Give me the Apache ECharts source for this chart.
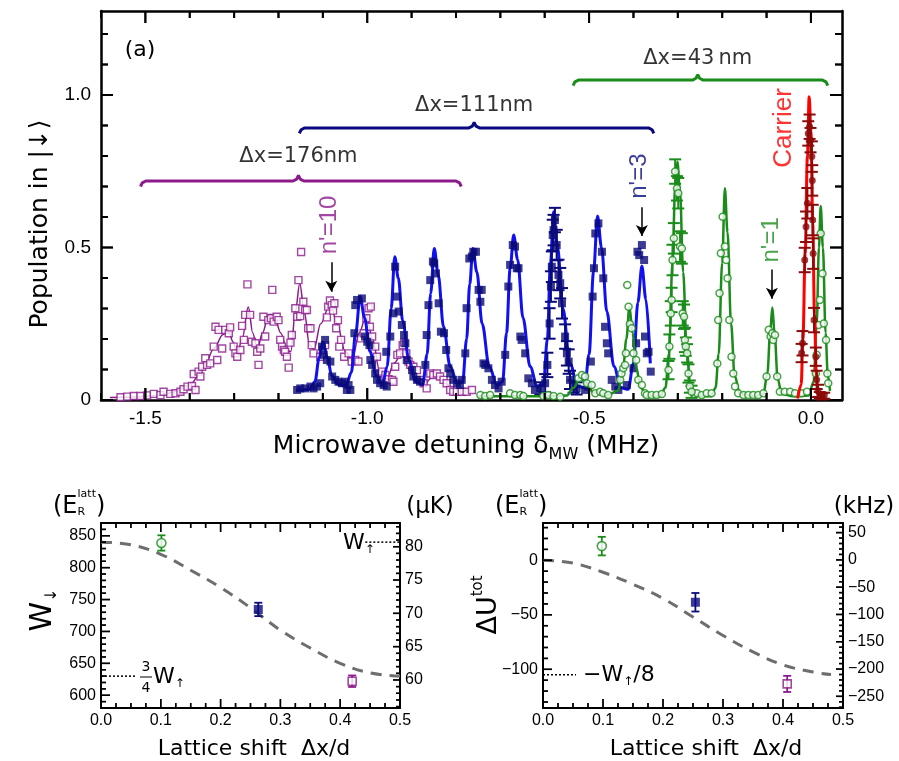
<!DOCTYPE html>
<html><head><meta charset="utf-8">
<script src="https://cdn.jsdelivr.net/npm/echarts@6/dist/echarts.min.js"></script>
<style>html,body{margin:0;padding:0;background:#fff}#c{width:899px;height:761px}</style>
</head><body><div id="c"></div>
<script>
// ================= Panel (a) data =================
const purplePoints = [[-1.556,0.009],[-1.541,0.011],[-1.526,0.013],[-1.511,0.013],[-1.496,0.015],[-1.481,0.02],[-1.466,0.016],[-1.459,0.027],[-1.444,0.02],[-1.432,0.022],[-1.421,0.027],[-1.414,0.035],[-1.405,0.044],[-1.395,0.046],[-1.387,0.033],[-1.391,0.085],[-1.380,0.093],[-1.376,0.077],[-1.372,0.109],[-1.361,0.115],[-1.365,0.137],[-1.354,0.12],[-1.346,0.175],[-1.338,0.131],[-1.342,0.24],[-1.335,0.23],[-1.327,0.169],[-1.320,0.23],[-1.312,0.219],[-1.309,0.238],[-1.301,0.175],[-1.297,0.153],[-1.293,0.142],[-1.286,0.164],[-1.282,0.243],[-1.278,0.197],[-1.275,0.279],[-1.270,0.379],[-1.264,0.279],[-1.260,0.191],[-1.252,0.186],[-1.248,0.158],[-1.245,0.115],[-1.241,0.169],[-1.234,0.273],[-1.230,0.208],[-1.223,0.262],[-1.217,0.268],[-1.214,0.361],[-1.211,0.257],[-1.204,0.273],[-1.200,0.262],[-1.196,0.197],[-1.192,0.175],[-1.188,0.164],[-1.185,0.158],[-1.181,0.142],[-1.177,0.106],[-1.173,0.188],[-1.170,0.213],[-1.162,0.301],[-1.158,0.273],[-1.155,0.393],[-1.151,0.275],[-1.149,0.485],[-1.144,0.322],[-1.140,0.295],[-1.136,0.295],[-1.133,0.235],[-1.128,0.235],[-1.125,0.18],[-1.121,0.153],[-1.106,0.142],[-1.100,0.164],[-1.095,0.18],[-1.091,0.271],[-1.088,0.306],[-1.084,0.326],[-1.080,0.311],[-1.077,0.293],[-1.074,0.317],[-1.070,0.235],[-1.066,0.262],[-1.063,0.175],[-1.059,0.197],[-1.052,0.142],[-1.042,0.153],[-1.035,0.126],[-1.027,0.131],[-1.020,0.126],[-1.014,0.202],[-1.008,0.219],[-1.002,0.268],[-0.997,0.301],[-0.992,0.306],[-0.994,0.24],[-0.989,0.208],[-0.982,0.175],[-0.978,0.142],[-0.973,0.087],[-0.967,0.093],[-0.959,0.082],[-0.952,0.068],[-0.944,0.066],[-0.941,0.06],[-0.937,0.109],[-0.932,0.148],[-0.926,0.153],[-0.920,0.18],[-0.917,0.188],[-0.912,0.153],[-0.907,0.126],[-0.903,0.115],[-0.896,0.109],[-0.888,0.098],[-0.881,0.066],[-0.873,0.055],[-0.866,0.038],[-0.858,0.087],[-0.851,0.082],[-0.843,0.087],[-0.836,0.077],[-0.828,0.066],[-0.821,0.055],[-0.813,0.033],[-0.806,0.027],[-0.798,0.027],[-0.787,0.027],[-0.776,0.027],[-0.764,0.033]];
const purpleFit = [[-1.58,0.008],[-1.52,0.01],[-1.47,0.015],[-1.43,0.028],[-1.40,0.05],[-1.37,0.1],[-1.345,0.17],[-1.325,0.215],[-1.312,0.222],[-1.302,0.19],[-1.293,0.15],[-1.282,0.2],[-1.268,0.305],[-1.258,0.22],[-1.248,0.165],[-1.236,0.22],[-1.222,0.28],[-1.21,0.28],[-1.195,0.22],[-1.18,0.16],[-1.172,0.16],[-1.162,0.29],[-1.152,0.383],[-1.142,0.29],[-1.13,0.18],[-1.12,0.165],[-1.105,0.25],[-1.083,0.318],[-1.068,0.25],[-1.05,0.16],[-1.034,0.13],[-1.018,0.22],[-1.002,0.279],[-0.988,0.2],[-0.972,0.095],[-0.956,0.066],[-0.94,0.12],[-0.922,0.153],[-0.905,0.1],[-0.89,0.06],[-0.873,0.049],[-0.855,0.072],[-0.836,0.082],[-0.818,0.05],[-0.8,0.022],[-0.78,0.015]];
const navyPoints = [[-1.158,0.033],[-1.151,0.038],[-1.140,0.038],[-1.128,0.044],[-1.121,0.038],[-1.113,0.044],[-1.106,0.055],[-1.102,0.175],[-1.095,0.197],[-1.098,0.148],[-1.091,0.131],[-1.083,0.126],[-1.079,0.077],[-1.072,0.066],[-1.065,0.06],[-1.057,0.055],[-1.05,0.06],[-1.042,0.049],[-1.038,0.033],[-1.046,0.033],[-1.029,0.219],[-1.023,0.328],[-1.012,0.333],[-1.027,0.311],[-1.005,0.208],[-1.0,0.191],[-0.995,0.18],[-0.993,0.131],[-0.989,0.115],[-0.982,0.087],[-0.978,0.066],[-0.971,0.055],[-0.963,0.049],[-0.956,0.044],[-0.957,0.158],[-0.948,0.208],[-0.941,0.284],[-0.937,0.437],[-0.933,0.339],[-0.929,0.29],[-0.922,0.246],[-0.917,0.213],[-0.914,0.186],[-0.911,0.131],[-0.899,0.098],[-0.896,0.077],[-0.888,0.066],[-0.881,0.06],[-0.869,0.115],[-0.866,0.213],[-0.862,0.311],[-0.858,0.393],[-0.852,0.454],[-0.849,0.448],[-0.845,0.415],[-0.839,0.317],[-0.834,0.224],[-0.827,0.219],[-0.822,0.164],[-0.817,0.104],[-0.813,0.087],[-0.806,0.066],[-0.798,0.055],[-0.791,0.049],[-0.787,0.066],[-0.779,0.153],[-0.776,0.301],[-0.770,0.464],[-0.764,0.47],[-0.761,0.486],[-0.755,0.486],[-0.749,0.361],[-0.745,0.322],[-0.742,0.361],[-0.738,0.12],[-0.734,0.115],[-0.727,0.104],[-0.719,0.066],[-0.712,0.049],[-0.704,0.038],[-0.697,0.06],[-0.689,0.148],[-0.682,0.372],[-0.678,0.443],[-0.672,0.508],[-0.667,0.503],[-0.663,0.432],[-0.659,0.432],[-0.655,0.208],[-0.652,0.197],[-0.644,0.153],[-0.637,0.071],[-0.629,0.055],[-0.622,0.033],[-0.509,0.033],[-0.502,0.044],[-0.496,0.126],[-0.492,0.339],[-0.489,0.432],[-0.486,0.546],[-0.479,0.579],[-0.471,0.486],[-0.468,0.399],[-0.464,0.24],[-0.46,0.186],[-0.457,0.153],[-0.449,0.066],[-0.441,0.044],[-0.434,0.033],[-0.415,0.049],[-0.4,0.104],[-0.394,0.186],[-0.391,0.486],[-0.387,0.475],[-0.381,0.508],[-0.376,0.459],[-0.374,0.208],[-0.37,0.153],[-0.366,0.158],[-0.361,0.093]];
const navyErrPoints = [[-0.61,0.038,0.02],[-0.599,0.055,0.03],[-0.594,0.115,0.04],[-0.589,0.251,0.05],[-0.586,0.372,0.05],[-0.584,0.437,0.05],[-0.582,0.541,0.05],[-0.58,0.557,0.05],[-0.577,0.59,0.04],[-0.573,0.508,0.05],[-0.569,0.41,0.05],[-0.565,0.383,0.05],[-0.561,0.317,0.05],[-0.554,0.208,0.04],[-0.55,0.153,0.04],[-0.546,0.126,0.04],[-0.543,0.066,0.03],[-0.535,0.044,0.02],[-0.528,0.038,0.02]];
const blueFit = [[-1.16,0.03],[-1.13,0.035],[-1.118,0.06],[-1.108,0.14],[-1.1,0.19],[-1.09,0.14],[-1.08,0.08],[-1.065,0.05],[-1.048,0.045],[-1.036,0.09],[-1.026,0.22],[-1.016,0.34],[-1.006,0.27],[-0.994,0.16],[-0.98,0.08],[-0.966,0.05],[-0.955,0.11],[-0.946,0.3],[-0.938,0.47],[-0.93,0.4],[-0.92,0.26],[-0.906,0.13],[-0.89,0.06],[-0.875,0.05],[-0.865,0.15],[-0.857,0.35],[-0.849,0.497],[-0.84,0.41],[-0.828,0.24],[-0.813,0.11],[-0.797,0.055],[-0.785,0.06],[-0.776,0.2],[-0.769,0.38],[-0.762,0.497],[-0.753,0.42],[-0.741,0.25],[-0.725,0.11],[-0.708,0.05],[-0.695,0.06],[-0.686,0.22],[-0.678,0.43],[-0.67,0.541],[-0.661,0.46],[-0.649,0.27],[-0.633,0.11],[-0.617,0.045],[-0.603,0.05],[-0.594,0.2],[-0.587,0.45],[-0.58,0.617],[-0.571,0.5],[-0.559,0.3],[-0.543,0.12],[-0.526,0.045],[-0.51,0.04],[-0.5,0.15],[-0.49,0.42],[-0.481,0.603],[-0.472,0.5],[-0.46,0.29],[-0.444,0.11],[-0.428,0.04],[-0.412,0.035],[-0.4,0.12],[-0.39,0.32],[-0.381,0.439],[-0.372,0.33],[-0.362,0.12]];
const greenPoints = [[-0.745,0.016],[-0.734,0.013],[-0.723,0.016],[-0.678,0.022],[-0.667,0.016],[-0.655,0.016],[-0.648,0.013],[-0.603,0.013],[-0.592,0.016],[-0.58,0.013],[-0.565,0.011],[-0.524,0.071],[-0.516,0.082],[-0.509,0.077],[-0.505,0.055],[-0.494,0.049],[-0.486,0.022],[-0.475,0.027],[-0.468,0.022],[-0.457,0.016],[-0.430,0.066],[-0.427,0.087],[-0.423,0.104],[-0.419,0.115],[-0.417,0.153],[-0.414,0.377],[-0.411,0.306],[-0.408,0.249],[-0.404,0.235],[-0.400,0.153],[-0.394,0.131],[-0.389,0.066],[-0.381,0.049],[-0.374,0.022],[-0.37,0.016],[-0.359,0.016],[-0.348,0.016],[-0.336,0.02],[-0.257,0.022],[-0.246,0.016],[-0.235,0.022],[-0.224,0.022],[-0.211,0.12],[-0.209,0.262],[-0.206,0.35],[-0.203,0.481],[-0.199,0.601],[-0.194,0.503],[-0.191,0.459],[-0.188,0.399],[-0.184,0.262],[-0.179,0.142],[-0.175,0.087],[-0.171,0.044],[-0.164,0.022],[-0.152,0.016],[-0.141,0.016],[-0.13,0.016],[-0.119,0.016],[-0.107,0.022],[-0.1,0.077],[-0.095,0.23],[-0.091,0.208],[-0.087,0.219],[-0.085,0.197],[-0.081,0.213],[-0.076,0.077],[-0.07,0.027],[-0.059,0.027],[-0.047,0.027],[-0.036,0.022],[-0.021,0.022],[-0.009,0.027],[0.011,0.087],[0.013,0.148],[0.017,0.246],[0.020,0.328],[0.022,0.546],[0.026,0.415],[0.029,0.251],[0.034,0.197],[0.037,0.087],[0.039,0.055]];
const greenErrPoints = [[-0.321,0.098,0.03],[-0.319,0.175,0.04],[-0.316,0.284,0.04],[-0.314,0.328,0.04],[-0.312,0.459,0.05],[-0.309,0.53,0.05],[-0.306,0.749,0.04],[-0.302,0.694,0.04],[-0.299,0.678,0.05],[-0.295,0.503,0.05],[-0.291,0.497,0.05],[-0.289,0.284,0.04],[-0.286,0.273,0.04],[-0.284,0.197,0.04],[-0.282,0.175,0.03],[-0.279,0.153,0.03],[-0.276,0.087,0.03],[-0.273,0.044,0.02],[-0.269,0.027,0.02]];
const greenFit = [[-0.75,0.012],[-0.6,0.012],[-0.55,0.015],[-0.535,0.04],[-0.52,0.075],[-0.505,0.05],[-0.49,0.025],[-0.46,0.015],[-0.435,0.03],[-0.424,0.09],[-0.416,0.2],[-0.409,0.306],[-0.402,0.22],[-0.394,0.11],[-0.384,0.04],[-0.37,0.015],[-0.34,0.012],[-0.328,0.04],[-0.32,0.15],[-0.312,0.45],[-0.306,0.7],[-0.301,0.781],[-0.295,0.68],[-0.288,0.42],[-0.28,0.17],[-0.272,0.05],[-0.26,0.015],[-0.225,0.012],[-0.215,0.04],[-0.208,0.15],[-0.2,0.45],[-0.194,0.694],[-0.188,0.55],[-0.18,0.25],[-0.172,0.08],[-0.16,0.02],[-0.13,0.012],[-0.107,0.02],[-0.098,0.09],[-0.092,0.22],[-0.087,0.303],[-0.082,0.22],[-0.075,0.07],[-0.066,0.02],[-0.04,0.012],[-0.005,0.015],[0.006,0.06],[0.013,0.25],[0.018,0.5],[0.022,0.636],[0.027,0.5],[0.033,0.22],[0.038,0.08],[0.043,0.03]];
const carrierPoints = [[-0.021,0.154,0.03],[-0.019,0.186,0.04],[-0.014,0.459,0.04],[-0.011,0.568,0.05],[-0.008,0.645,0.05],[-0.006,0.874,0.04],[-0.003,0.896,0.04],[-0.001,0.852,0.04],[0.002,0.798,0.05],[0.003,0.72,0.05],[0.004,0.59,0.05],[0.005,0.48,0.05],[0.007,0.262,0.04],[0.011,0.142,0.03],[0.013,0.066,0.03],[0.016,0.03,0.02],[0.02,0.016,0.01],[0.025,0.012,0.01],[0.03,0.014,0.01]];
const carrierFit = [[-0.03,0.005],[-0.022,0.05],[-0.018,0.2],[-0.013,0.48],[-0.008,0.8],[-0.004,0.994],[0.0,0.88],[0.004,0.58],[0.008,0.28],[0.012,0.09],[0.016,0.02],[0.025,0.005]];

const bracketLabels = ['Δx=176nm','Δx=111nm','Δx=43\u2009nm'];
const bracketColors = ['#8b1a8b','#0a0a80','#1a8c1a'];
const bracketX1 = [-1.511,-1.153,-0.536];
const bracketX2 = [-0.788,-0.354,0.038];
const bracketMid = [-1.155,-0.759,-0.255];
const bracketY = [0.718,0.892,1.049];

const xLabelsA = [-1.5,-1.0,-0.5,0.0];
const xMinorA = [-1.6,-1.4,-1.3,-1.2,-1.1,-0.9,-0.8,-0.7,-0.6,-0.4,-0.3,-0.2,-0.1];
const yLabelsA = [0,0.5,1.0];
const yMinorA = [0.1,0.2,0.3,0.4,0.6,0.7,0.8,0.9,1.1,1.2];

// ================= Panels (b), (c) data =================
const shiftB = [0.101,0.263,0.42];
const wDown = [838.7,734.5,622];
const wDownErr = [12,10.5,9];
const shiftC = [0.098,0.254,0.407];
const dUtot = [13,-38.5,-113.4];
const dUtotErr = [8.5,8.5,7.4];
const markerColors = ['#1a8c1a','#0a0a80','#8b1a8b'];
const theoryXB = [0,0.05,0.1,0.15,0.2,0.25,0.3,0.35,0.4,0.45,0.5];
const theoryW  = [840,836,821,796,769,737,702,674,650,635,630];
const theoryXC = [0,0.05,0.1,0.15,0.2,0.25,0.3,0.35,0.4,0.45,0.48];
const theoryU  = [0,-2.6,-11,-22,-35,-52,-69,-84,-96,-102.5,-104.8];
const xLabelsBC = [0,0.1,0.2,0.3,0.4,0.5];
const yLabelsB = [600,650,700,750,800,850];
const yLabelsBRight = [60,65,70,75,80];
const yLabelsC = [-100,-50,0];
const yLabelsCRight = [-250,-200,-150,-100,-50,0,50];

// ================= helpers =================
function stepVals(a, b, s, skip) {
  const out = [];
  for (let k = Math.round(a / s); k * s <= b + 1e-9; k++) {
    const v = Math.round(k * s * 1000) / 1000;
    if (skip && Math.abs(v / skip - Math.round(v / skip)) < 1e-6) continue;
    out.push(v);
  }
  return out;
}
function mkAxis(grid, pos, min, max, lw, label) {
  return {type:'value', gridIndex:grid, position:pos, min:min, max:max, splitLine:{show:false},
    axisLine:{show:true, onZero:false, lineStyle:{color:'#000', width:lw}},
    axisTick:{show:false},
    axisLabel: label ? {show:true, customValues:label.values, formatter:label.fmt, color:'#000', fontFamily:'Liberation Sans', fontSize:label.size, margin:label.margin} : {show:false}};
}
const fmt1 = v => v.toFixed(1);
const fmtY = v => v === 0 ? '0' : v.toFixed(1);
const fmtInt = v => v < 0 ? '\u2212' + Math.abs(v) : String(v);

const mctx = document.createElement('canvas').getContext('2d');
function tw(t, size, fam) { mctx.font = size + 'px "' + fam + '"'; return mctx.measureText(t).width; }
function comp(parts, cx, cy, rot, anchor) {
  let x = 0; const items = [];
  parts.forEach(p => {
    const fam = p.fam || 'DejaVu Sans';
    const w = tw(p.t, p.size, fam);
    items.push({type:'text', x: x + (p.dx || 0), y: (p.dy || 0), silent:true,
      style:{text:p.t, fontSize:p.size, fontFamily:fam, fill:p.color || '#000', align:'left', verticalAlign:'middle', textAlign:'left', textVerticalAlign:'middle'}});
    x += (p.adv !== undefined ? p.adv : w);
  });
  const off = anchor === 'left' ? 0 : -x / 2;
  items.forEach(it => { it.x += off; });
  return {type:'group', x:cx, y:cy, rotation:rot || 0, children:items, silent:true};
}
function errRender(color, cap, lw) {
  return function (params, api) {
    const x = api.value(0), y = api.value(1), e = api.value(2);
    const p0 = api.coord([x, y - e]), p1 = api.coord([x, y + e]);
    const st = {stroke:color, lineWidth:lw};
    return {type:'group', children:[
      {type:'line', shape:{x1:p0[0], y1:p0[1], x2:p1[0], y2:p1[1]}, style:st},
      {type:'line', shape:{x1:p0[0]-cap, y1:p0[1], x2:p0[0]+cap, y2:p0[1]}, style:st},
      {type:'line', shape:{x1:p1[0]-cap, y1:p1[1], x2:p1[0]+cap, y2:p1[1]}, style:st}
    ]};
  };
}
// tick renderer: same mechanism as the error bars (api.coord), item = [xv, yv, dxPx, dyPx]
function tickRender(lw) {
  return function (params, api) {
    const p = api.coord([api.value(0), api.value(1)]);
    const dx = api.value(2), dy = api.value(3);
    return {type:'line', shape:{x1:p[0], y1:p[1], x2:p[0] + dx, y2:p[1] + dy}, style:{stroke:'#000', lineWidth:lw}};
  };
}
function tickData(xr, yr, xg, yg) {
  const d = [];
  xg.forEach(t => t[0].forEach(v => { d.push([v, yr[0], 0, -t[1]]); d.push([v, yr[1], 0, t[1]]); }));
  yg.forEach(t => t[0].forEach(v => {
    if (t[2].indexOf('l') >= 0) d.push([xr[0], v, t[1], 0]);
    if (t[2].indexOf('r') >= 0) d.push([xr[1], v, -t[1], 0]);
  }));
  return d;
}
function tickSeries(xi, yi, xr, yr, xg, yg, lw) {
  const data = tickData(xr, yr, xg, yg);
  return [
    {type:'custom', xAxisIndex:xi, yAxisIndex:yi, data:data, renderItem:tickRender(lw), z:30, silent:true, clip:false},
    {type:'scatter', xAxisIndex:xi, yAxisIndex:yi, z:29, silent:true, clip:false,
      data:data.map(p => ({value:[p[0], p[1]],
        symbol:'rect',
        symbolSize:[p[2] === 0 ? lw : Math.abs(p[2]), p[3] === 0 ? lw : Math.abs(p[3])],
        symbolOffset:[p[2] / 2, p[3] / 2]})),
      itemStyle:{color:'#000'}}
  ];
}
function bracePts(x1, x2, m, y) {
  const d = 0.018, e = 0.012, f = 0.004;
  return [[x1,y-d],[x1+f,y-0.006],[x1+e,y],[m-e,y],[m-f,y+0.006],[m,y+d],[m+f,y+0.006],[m+e,y],[x2-e,y],[x2-f,y-0.006],[x2,y-d]];
}

// ================= axes & grids =================
const X_MIN_A = -1.6, X_MAX_A = 0.07, Y_MIN_A = 0, Y_MAX_A = 1.2754;
const B_YMIN = 580, B_YMAX = 870, B_RMIN = 55.79, B_RMAX = 83.56;
const C_YMIN = -135.5, C_YMAX = 34.2, C_RMIN = -271.4, C_RMAX = 67.6;
const grids = [
  {left:101, top:11, width:741, height:389},
  {left:101, top:523, width:299, height:185},
  {left:543, top:523, width:300, height:185}
];
const xAxes = [
  mkAxis(0,'bottom',X_MIN_A,X_MAX_A,2.5,{values:xLabelsA,fmt:fmt1,size:19,margin:9}),
  mkAxis(0,'top',X_MIN_A,X_MAX_A,2.5,null),
  mkAxis(1,'bottom',0,0.5,2,{values:xLabelsBC,fmt:fmt1,size:16,margin:5}),
  mkAxis(1,'top',0,0.5,2,null),
  mkAxis(2,'bottom',0,0.5,2,{values:xLabelsBC,fmt:fmt1,size:16,margin:5}),
  mkAxis(2,'top',0,0.5,2,null)
];
const yAxes = [
  mkAxis(0,'left',Y_MIN_A,Y_MAX_A,2.5,{values:yLabelsA,fmt:fmtY,size:19,margin:10}),
  mkAxis(0,'right',Y_MIN_A,Y_MAX_A,2.5,null),
  mkAxis(1,'left',B_YMIN,B_YMAX,2,{values:yLabelsB,fmt:fmtInt,size:16,margin:5}),
  mkAxis(1,'right',B_RMIN,B_RMAX,2,{values:yLabelsBRight,fmt:fmtInt,size:16,margin:5}),
  mkAxis(2,'left',C_YMIN,C_YMAX,2,{values:yLabelsC,fmt:fmtInt,size:16,margin:5}),
  mkAxis(2,'right',C_RMIN,C_RMAX,2,{values:yLabelsCRight,fmt:fmtInt,size:16,margin:5})
];

// ================= series =================
const PURPLE = '#8b1a8b', NAVY = '#0a0a78', BLUE = '#1010f0', GREEN = '#1a8c1a', DKRED = '#8b0a0a', RED = '#ff0000';
const A = {xAxisIndex:0, yAxisIndex:0};
const series = [];

const lineS = (data, color, w, z) => Object.assign({type:'line', data:data, showSymbol:false, smooth:0.35, smoothMonotone:'x', lineStyle:{color:color, width:w}, z:z, silent:true}, A);
series.push(lineS(purpleFit, PURPLE, 1.5, 2));
series.push(Object.assign({type:'scatter', data:purplePoints, symbol:'rect', symbolSize:7, itemStyle:{color:'#fff', borderColor:PURPLE, borderWidth:1.4}, z:3, silent:true}, A));
series.push(lineS(blueFit, BLUE, 3, 4));
series.push(Object.assign({type:'scatter', data:navyPoints, symbol:'rect', symbolSize:8, itemStyle:{color:NAVY}, z:5, silent:true}, A));
series.push(Object.assign({type:'custom', data:navyErrPoints, renderItem:errRender(NAVY, 6, 2), z:5, silent:true}, A));
series.push(Object.assign({type:'scatter', data:navyErrPoints, symbol:'rect', symbolSize:8, itemStyle:{color:NAVY}, z:5, silent:true}, A));
series.push(lineS(greenFit, GREEN, 2.5, 6));
series.push(Object.assign({type:'custom', data:greenErrPoints, renderItem:errRender(GREEN, 6, 2), z:7, silent:true}, A));
series.push(Object.assign({type:'scatter', data:greenPoints.concat(greenErrPoints.map(p => [p[0], p[1]])), symbol:'circle', symbolSize:7, itemStyle:{color:'#fff', borderColor:GREEN, borderWidth:1.5}, z:7, silent:true}, A));
series.push(lineS(carrierFit, RED, 3, 8));
series.push(Object.assign({type:'custom', data:carrierPoints, renderItem:errRender(DKRED, 6, 2), z:9, silent:true}, A));
series.push(Object.assign({type:'scatter', data:carrierPoints, symbol:'circle', symbolSize:7, itemStyle:{color:DKRED}, z:9, silent:true}, A));
bracketLabels.forEach((lab, i) => {
  series.push(Object.assign({type:'line', data:bracePts(bracketX1[i], bracketX2[i], bracketMid[i], bracketY[i]), showSymbol:false, lineStyle:{color:bracketColors[i], width:3}, z:10, silent:true}, A));
});
const annot = [
  {value:[bracketMid[0], 0.797], label:{formatter:bracketLabels[0], fontSize:21, color:'#000'}},
  {value:[bracketMid[1], 0.967], label:{formatter:bracketLabels[1], fontSize:21, color:'#000'}},
  {value:[bracketMid[2], 1.121], label:{formatter:bracketLabels[2], fontSize:21, color:'#000'}},
  {value:[-1.086, 0.574], label:{formatter:"n'=10", fontSize:24, color:PURPLE, rotate:90, fontFamily:'Liberation Sans'}},
  {value:[-0.386, 0.734], label:{formatter:"n'=3", fontSize:24, color:'#0a0a80', rotate:90, fontFamily:'Liberation Sans'}},
  {value:[-0.0885, 0.525], label:{formatter:"n'=1", fontSize:24, color:GREEN, rotate:90, fontFamily:'Liberation Sans'}},
  {value:[-0.062, 0.892], label:{formatter:'Carrier', fontSize:26, color:RED, rotate:90, fontFamily:'Liberation Sans'}}
];
series.push(Object.assign({type:'scatter', data:annot, symbolSize:0, z:12, silent:true,
  label:{show:true, position:'inside', fontFamily:'DejaVu Sans', align:'center', verticalAlign:'middle'},
  markLine:{silent:true, symbol:['none','arrow'], symbolSize:[9,11], label:{show:false}, lineStyle:{color:'#000', width:1.5, type:'solid'},
    data:[
      [{coord:[-1.081,0.452]},{coord:[-1.081,0.355]}],
      [{coord:[-0.381,0.632]},{coord:[-0.381,0.538]}],
      [{coord:[-0.088,0.428]},{coord:[-0.088,0.332]}]
    ]}
}, A));

const B = {xAxisIndex:2, yAxisIndex:2};
series.push(Object.assign({type:'line', data:theoryXB.map((x,i)=>[x, theoryW[i]]), showSymbol:false, smooth:0.4, lineStyle:{color:'#6e6e6e', width:3, type:[11,8]}, z:2, silent:true}, B));
series.push(Object.assign({type:'line', data:[[0.442,840],[0.5,840]], showSymbol:false, lineStyle:{color:'#000', width:1.5, type:[2,2]}, z:2, silent:true}, B));
series.push(Object.assign({type:'line', data:[[0,630],[0.06,630]], showSymbol:false, lineStyle:{color:'#000', width:1.5, type:[2,2]}, z:2, silent:true}, B));
series.push(Object.assign({type:'custom', data:shiftB.map((x,i)=>[x, wDown[i], wDownErr[i], i]), renderItem:function(p, api){ const c = markerColors[api.value(3)]; return errRender(c, 4, 1.8)(p, api); }, z:3, silent:true}, B));
const C = {xAxisIndex:4, yAxisIndex:4};
series.push(Object.assign({type:'line', data:theoryXC.map((x,i)=>[x, theoryU[i]]), showSymbol:false, smooth:0.4, lineStyle:{color:'#6e6e6e', width:3, type:[11,8]}, z:2, silent:true}, C));
series.push(Object.assign({type:'line', data:[[0,-105],[0.055,-105]], showSymbol:false, lineStyle:{color:'#000', width:1.5, type:[2,2]}, z:2, silent:true}, C));
series.push(Object.assign({type:'custom', data:shiftC.map((x,i)=>[x, dUtot[i], dUtotErr[i], i]), renderItem:function(p, api){ const c = markerColors[api.value(3)]; return errRender(c, 4, 1.8)(p, api); }, z:3, silent:true}, C));
const mkStyles = [
  {symbol:'circle', symbolSize:9, itemStyle:{color:'#fff', borderColor:markerColors[0], borderWidth:1.6}},
  {symbol:'rect', symbolSize:9, itemStyle:{color:markerColors[1]}},
  {symbol:'rect', symbolSize:8, itemStyle:{color:'#fff', borderColor:markerColors[2], borderWidth:1.6}}
];
[0,1,2].forEach(i => {
  series.push(Object.assign({type:'scatter', data:[[shiftB[i], wDown[i]]], z:4, silent:true}, mkStyles[i], B));
  series.push(Object.assign({type:'scatter', data:[[shiftC[i], dUtot[i]]], z:4, silent:true}, mkStyles[i], C));
});

// inward frame ticks (placed through each axis pair's own scale)
series.push(...tickSeries(0, 0, [X_MIN_A, X_MAX_A], [Y_MIN_A, Y_MAX_A], [[xLabelsA,12],[xMinorA,7]], [[yLabelsA,12,'lr'],[yMinorA,7,'lr']], 2));
series.push(...tickSeries(2, 2, [0, 0.5], [B_YMIN, B_YMAX], [[xLabelsBC,9],[stepVals(0,0.5,0.025,0.1),5]], [[yLabelsB,9,'l'],[stepVals(580,870,10,50),5,'l']], 1.5));
series.push(...tickSeries(2, 3, [0, 0.5], [B_RMIN, B_RMAX], [], [[yLabelsBRight,7,'r'],[stepVals(56,83,1,5),4,'r']], 1.5));
series.push(...tickSeries(4, 4, [0, 0.5], [C_YMIN, C_YMAX], [[xLabelsBC,9],[stepVals(0,0.5,0.025,0.1),5]], [[yLabelsC,9,'l'],[stepVals(-130,30,10,50),5,'l']], 1.5));
series.push(...tickSeries(4, 5, [0, 0.5], [C_RMIN, C_RMAX], [], [[yLabelsCRight,7,'r'],[stepVals(-270,60,10,50),4,'r']], 1.5));

// ================= graphic texts =================
const R90 = Math.PI / 2;
const graphic = [
  comp([{t:'(a)', size:22}], 140, 50, 0),
  comp([{t:'Population in |↓⟩', size:25}], 40, 224, R90),
  comp([{t:'Microwave detuning δ', size:25},{t:'MW', size:16, dy:9},{t:' (MHz)', size:25}], 466, 446, 0),
  comp([{t:'Lattice shift  Δx/d', size:22}], 254, 749, 0),
  comp([{t:'W', size:30},{t:'↓', size:16, dy:9}], 43, 610, R90),
  comp([{t:'(E', size:24},{t:'latt', size:11, dy:-13, adv:0},{t:'R', size:11, dy:5, adv:tw('latt',11,'DejaVu Sans')},{t:')', size:24}], 53, 507, 0, 'left'),
  comp([{t:'(μK)', size:23}], 430, 507, 0),
  comp([{t:'W', size:22},{t:'↑', size:12, dy:7}], 343, 543, 0, 'left'),
  comp([{t:'3', size:14}], 146, 667, 0),
  comp([{t:'4', size:14}], 146, 688, 0),
  {type:'line', shape:{x1:140, y1:677, x2:152, y2:677}, style:{stroke:'#000', lineWidth:1}, silent:true},
  comp([{t:'W', size:22},{t:'↑', size:12, dy:7}], 153, 677, 0, 'left'),
  comp([{t:'Lattice shift  Δx/d', size:22}], 706, 749, 0),
  comp([{t:'ΔU', size:27},{t:'tot', size:15, dy:-11}], 489, 605, R90),
  comp([{t:'(E', size:24},{t:'latt', size:11, dy:-13, adv:0},{t:'R', size:11, dy:5, adv:tw('latt',11,'DejaVu Sans')},{t:')', size:24}], 495, 507, 0, 'left'),
  comp([{t:'(kHz)', size:23}], 864, 507, 0),
  comp([{t:'\u2212W', size:22},{t:'↑', size:12, dy:7},{t:'/8', size:22}], 583, 675, 0, 'left')
];

const chart = echarts.init(document.getElementById('c'), null, {renderer:'canvas'});
chart.setOption({
  animation:false,
  backgroundColor:'#ffffff',
  grid:grids,
  xAxis:xAxes,
  yAxis:yAxes,
  series:series,
  graphic:graphic
});
</script>
</body></html>
